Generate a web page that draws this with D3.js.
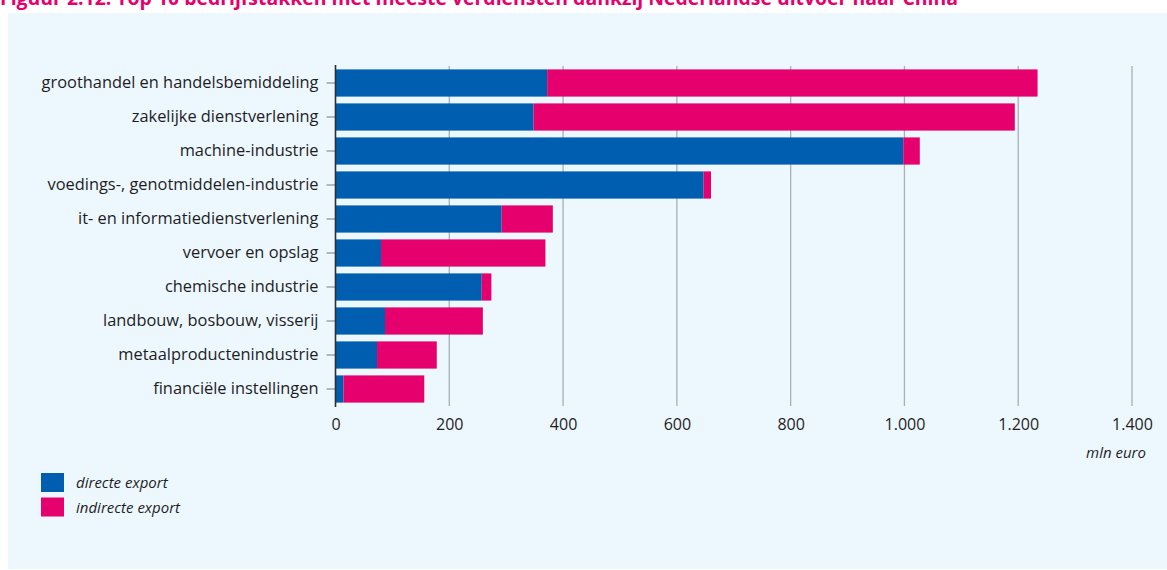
<!DOCTYPE html>
<html lang="nl">
<head>
<meta charset="utf-8">
<script src="https://cdn.jsdelivr.net/npm/d3@7"></script>
<style>
  html, body { margin: 0; padding: 0; background: #ffffff; }
  svg { display: block; }
  text { font-family: "Open Sans", "Noto Sans", sans-serif; fill: #1e1e1e; }
</style>
</head>
<body>
<svg id="chart" width="1167" height="570"></svg>
<script>
// Bedrijfstakken, van boven naar beneden
const categories = [
  "groothandel en handelsbemiddeling",
  "zakelijke dienstverlening",
  "machine-industrie",
  "voedings-, genotmiddelen-industrie",
  "it- en informatiedienstverlening",
  "vervoer en opslag",
  "chemische industrie",
  "landbouw, bosbouw, visserij",
  "metaalproductenindustrie",
  "financiële instellingen"
];
// Verdiensten in mln euro
const directeExport   = [372, 348, 998, 647, 292, 80, 257, 87, 73, 14];
const indirecteExport = [862, 846, 29, 13, 90, 289, 17, 172, 105, 142];
const seriesNames = ["directe export", "indirecte export"];
const seriesColors = ["#005eb0", "#e5006d"];
const xTicks = [0, 200, 400, 600, 800, 1000, 1200, 1400];
const title = "Figuur 2.12: Top 10 bedrijfstakken met meeste verdiensten dankzij Nederlandse uitvoer naar China";
const unitLabel = "mln euro";

const svg = d3.select("#chart");

// achtergrondpaneel
svg.append("rect")
  .attr("x", 8).attr("y", 13)
  .attr("width", 1159).attr("height", 556)
  .attr("fill", "#edf7fe");

// titel (valt aan de bovenrand deels buiten beeld)
svg.append("text")
  .attr("x", 0).attr("y", 5)
  .attr("textLength", 958)
  .attr("lengthAdjust", "spacingAndGlyphs")
  .style("font-size", "20px")
  .style("font-weight", "700")
  .style("fill", "#e5006d")
  .text(title);

const nl = d3.formatLocale({ decimal: ",", thousands: ".", grouping: [3], currency: ["€ ", ""] });
const fmt = nl.format(",d");

const x = d3.scaleLinear().domain([0, 1400]).range([335.5, 1132]);
const y = d3.scaleBand().domain(categories).range([66, 406]).paddingInner(0.2).paddingOuter(0.1);

// verticale rasterlijnen
svg.append("g")
  .selectAll("line")
  .data(xTicks.filter(d => d > 0))
  .join("line")
  .attr("x1", d => x(d)).attr("x2", d => x(d))
  .attr("y1", 66).attr("y2", 406)
  .attr("stroke", "#a9afb5")
  .attr("stroke-width", 1.3);

// gestapelde balken
const rows = categories.map((c, i) => ({ cat: c, directe: directeExport[i], indirecte: indirecteExport[i] }));
const stacked = d3.stack().keys(["directe", "indirecte"])(rows);

svg.append("g")
  .selectAll("g")
  .data(stacked)
  .join("g")
  .attr("fill", (d, i) => seriesColors[i])
  .selectAll("rect")
  .data(d => d)
  .join("rect")
  .attr("x", d => x(d[0]))
  .attr("width", d => x(d[1]) - x(d[0]))
  .attr("y", d => y(d.data.cat))
  .attr("height", y.bandwidth());

// y-as met categorielabels
const yAxis = svg.append("g")
  .attr("transform", `translate(${x(0)},0)`)
  .call(d3.axisLeft(y).tickSize(9).tickPadding(8));
yAxis.select(".domain").remove();
yAxis.selectAll(".tick line").attr("stroke", "#8a8f94").attr("stroke-width", 1.2);
yAxis.selectAll(".tick text")
  .style("font-size", "16.4px")
  .style("font-family", "\"Open Sans\", sans-serif")
  .attr("fill", "#1e1e1e");

svg.append("line")
  .attr("x1", x(0)).attr("x2", x(0))
  .attr("y1", 65).attr("y2", 407)
  .attr("stroke", "#2a2f33")
  .attr("stroke-width", 1.6);

// x-as labels
const xAxis = svg.append("g")
  .attr("transform", "translate(0,406)")
  .call(d3.axisBottom(x).tickValues(xTicks).tickFormat(fmt).tickSize(0).tickPadding(13));
xAxis.select(".domain").remove();
xAxis.selectAll(".tick text")
  .style("font-size", "16px")
  .style("font-family", "\"Open Sans\", sans-serif")
  .attr("fill", "#1e1e1e");

svg.append("text")
  .attr("x", 1146).attr("y", 458)
  .attr("text-anchor", "end")
  .style("font-size", "15px")
  .style("font-style", "italic")
  .text(unitLabel);

// legenda
const legend = svg.append("g");
seriesNames.forEach((name, i) => {
  legend.append("rect")
    .attr("x", 41).attr("y", 473 + i * 24.5)
    .attr("width", 23).attr("height", 19)
    .attr("fill", seriesColors[i]);
  legend.append("text")
    .attr("x", 76).attr("y", 488 + i * 24.5)
    .style("font-size", "15px")
    .style("font-style", "italic")
    .text(name);
});
</script>
</body>
</html>
